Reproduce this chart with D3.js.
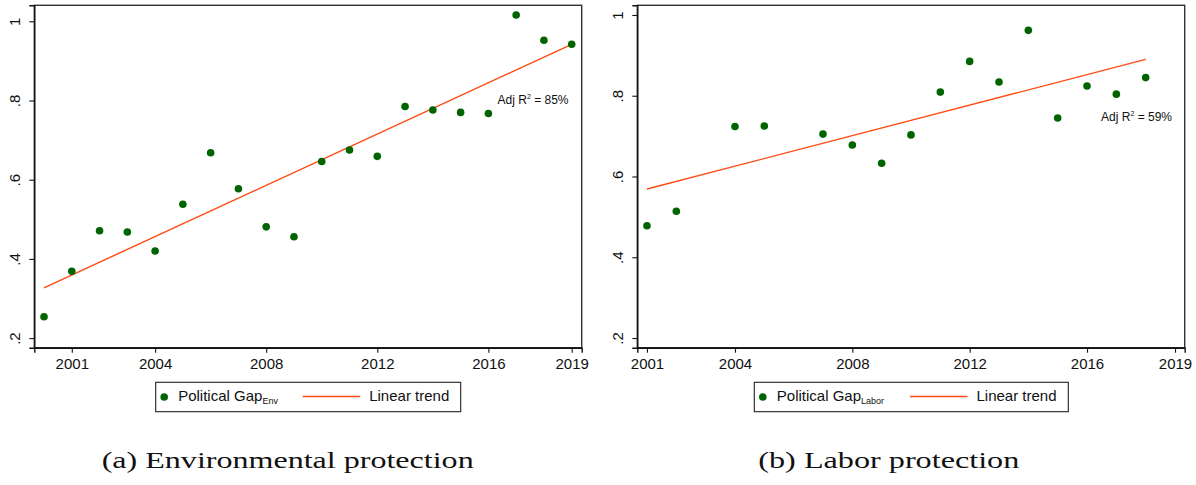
<!DOCTYPE html>
<html>
<head>
<meta charset="utf-8">
<script src="https://cdn.jsdelivr.net/npm/d3@7"></script>
<style>
  html, body { margin: 0; padding: 0; background: #fff; }
  svg { display: block; }
  .sans { font-family: "Liberation Sans", Arial, Helvetica, sans-serif; }
  .serif { font-family: "Liberation Serif", "Times New Roman", serif; }
</style>
</head>
<body>
<svg id="chart" width="1196" height="485"></svg>
<script>
// Political gap, environmental protection (yearly)
const envYears = [2000, 2001, 2002, 2003, 2004, 2005, 2006, 2007, 2008, 2009,
                  2010, 2011, 2012, 2013, 2014, 2015, 2016, 2017, 2018, 2019];
const envGap = [0.254, 0.369, 0.471, 0.468, 0.420, 0.538, 0.668, 0.577, 0.481, 0.456,
                0.646, 0.675, 0.659, 0.785, 0.776, 0.770, 0.767, 1.016, 0.952, 0.942];
const envTrendYears = [2000, 2019];
const envTrendValues = [0.327, 0.942];

// Political gap, labor protection (yearly, some years missing)
const laborYears = [2001, 2002, 2004, 2005, 2007, 2008, 2009, 2010,
                    2011, 2012, 2013, 2014, 2015, 2016, 2017, 2018];
const laborGap = [0.478, 0.514, 0.724, 0.725, 0.705, 0.678, 0.633, 0.703,
                  0.809, 0.885, 0.834, 0.962, 0.745, 0.824, 0.804, 0.845];
const laborTrendYears = [2001, 2018];
const laborTrendValues = [0.569, 0.890];

// Axis ticks
const xTickYears = [2001, 2004, 2008, 2012, 2016, 2019];
const yTickValues = [0.2, 0.4, 0.6, 0.8, 1];
const yTickLabels = [".2", ".4", ".6", ".8", "1"];

const GREEN = "#006400";
const ORANGE = "#ff4a12";

const svg = d3.select("#chart");
svg.append("rect").attr("width", 1196).attr("height", 485).attr("fill", "#fff");

function drawPanel(cfg) {
  const x = d3.scaleLinear().domain(cfg.xDomain).range([cfg.left, cfg.right]);
  const y = d3.scaleLinear().domain(cfg.yDomain).range([cfg.bottom, cfg.top]);
  const g = svg.append("g");

  // plot region frame
  g.append("rect")
    .attr("x", cfg.left).attr("y", cfg.top)
    .attr("width", cfg.right - cfg.left).attr("height", cfg.bottom - cfg.top)
    .attr("fill", "none").attr("stroke", "#333").attr("stroke-width", 1.4);

  // y axis
  const yAxis = d3.axisLeft(y)
    .tickValues(yTickValues)
    .tickSize(5)
    .tickFormat((d, i) => yTickLabels[i]);
  const ya = g.append("g").attr("transform", `translate(${cfg.left},0)`).call(yAxis);
  ya.select(".domain").attr("stroke", "#111").attr("stroke-width", 1.4);
  ya.selectAll(".tick line").attr("stroke", "#111").attr("stroke-width", 1.1);
  ya.selectAll(".tick text")
    .attr("class", "sans")
    .attr("x", 0).attr("dy", null)
    .attr("transform", "translate(-14,0) rotate(-90)")
    .attr("text-anchor", "middle")
    .attr("font-size", 15)
    .attr("fill", "#111");

  // x axis
  const xAxis = d3.axisBottom(x)
    .tickValues(xTickYears)
    .tickSize(5)
    .tickFormat(d3.format("d"));
  const xa = g.append("g").attr("transform", `translate(0,${cfg.bottom})`).call(xAxis);
  xa.select(".domain").attr("stroke", "#111").attr("stroke-width", 1.4);
  xa.selectAll(".tick line").attr("stroke", "#111").attr("stroke-width", 1.1);
  xa.selectAll(".tick text")
    .attr("class", "sans")
    .attr("y", 21).attr("dy", null)
    .attr("font-size", 15)
    .attr("fill", "#111");
  ya.attr("font-family", null); xa.attr("font-family", null);

  // linear trend
  const line = d3.line().x(d => x(d[0])).y(d => y(d[1]));
  g.append("path")
    .datum(d3.zip(cfg.trendYears, cfg.trendValues))
    .attr("d", line)
    .attr("fill", "none")
    .attr("stroke", ORANGE)
    .attr("stroke-width", 1.4);

  // observed points
  g.append("g").selectAll("circle")
    .data(d3.zip(cfg.years, cfg.values))
    .join("circle")
    .attr("cx", d => x(d[0]))
    .attr("cy", d => y(d[1]))
    .attr("r", 3.8)
    .attr("fill", GREEN);

  // fit annotation
  const note = g.append("text")
    .attr("class", "sans")
    .attr("x", x(cfg.noteAt[0]))
    .attr("y", y(cfg.noteAt[1]))
    .attr("font-size", 12)
    .attr("fill", "#111");
  note.append("tspan").text("Adj R");
  note.append("tspan").attr("font-size", 7).attr("dy", -5).text("2");
  note.append("tspan").attr("dy", 5).text(" = " + cfg.r2);

  // legend
  const lg = g.append("g");
  lg.append("rect")
    .attr("x", cfg.legend.x).attr("y", 382.3)
    .attr("width", cfg.legend.w).attr("height", 29.4)
    .attr("fill", "#fff").attr("stroke", "#222").attr("stroke-width", 1.1);
  lg.append("circle")
    .attr("cx", cfg.legend.x + 8.5).attr("cy", 397)
    .attr("r", 3.8).attr("fill", GREEN);
  const lt = lg.append("text")
    .attr("class", "sans")
    .attr("x", cfg.legend.x + 22.5).attr("y", 401)
    .attr("font-size", 15).attr("fill", "#111");
  lt.append("tspan").text("Political Gap");
  lt.append("tspan").attr("font-size", 9).attr("dy", 3).text(cfg.sub);
  lg.append("line")
    .attr("x1", cfg.legend.lineX).attr("x2", cfg.legend.lineX + 57.5)
    .attr("y1", 396.5).attr("y2", 396.5)
    .attr("stroke", ORANGE).attr("stroke-width", 1.4);
  lg.append("text")
    .attr("class", "sans")
    .attr("x", cfg.legend.lineX + 66.5).attr("y", 401)
    .attr("font-size", 15).attr("fill", "#111")
    .text("Linear trend");

  // caption
  svg.append("text")
    .attr("class", "serif")
    .attr("x", cfg.caption.x).attr("y", 468)
    .attr("font-size", 24)
    .attr("fill", "#111")
    .attr("textLength", cfg.caption.w)
    .attr("lengthAdjust", "spacingAndGlyphs")
    .text(cfg.caption.text);
}

drawPanel({
  left: 34.3, right: 581.7, top: 5.3, bottom: 347.7,
  xDomain: [1999.65, 2019.36], yDomain: [0.1758, 1.0404],
  years: envYears, values: envGap,
  trendYears: envTrendYears, trendValues: envTrendValues,
  noteAt: [2016.33, 0.791], r2: "85%",
  sub: "Env",
  legend: { x: 155.7, w: 305, lineX: 302.7 },
  caption: { x: 101.7, w: 372, text: "(a) Environmental protection" }
});

drawPanel({
  left: 637.3, right: 1184.7, top: 5.3, bottom: 347.7,
  xDomain: [2000.67, 2019.33], yDomain: [0.176, 1.024],
  years: laborYears, values: laborGap,
  trendYears: laborTrendYears, trendValues: laborTrendValues,
  noteAt: [2016.48, 0.737], r2: "59%",
  sub: "Labor",
  legend: { x: 754.3, w: 314, lineX: 910 },
  caption: { x: 758.3, w: 261, text: "(b) Labor protection" }
});
</script>
</body>
</html>
